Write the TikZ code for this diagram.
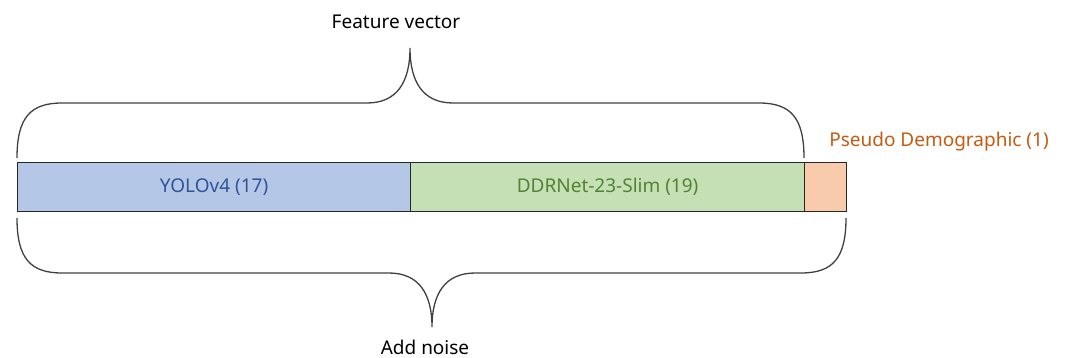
\documentclass[tikz,border=0pt]{standalone}
\usepackage{fontspec}
\setmainfont{Noto Sans}
\definecolor{bluefill}{HTML}{B4C7E7}
\definecolor{bluetext}{HTML}{2F5597}
\definecolor{greenfill}{HTML}{C5E0B4}
\definecolor{greentext}{HTML}{548235}
\definecolor{orangefill}{HTML}{F8CBAD}
\definecolor{orangetext}{HTML}{C55A11}
\definecolor{linegray}{HTML}{404040}
\begin{document}
\begin{tikzpicture}[x=1pt,y=-1pt,
  seg/.style={draw=black!85, line width=1.2pt, inner sep=0pt, anchor=north west,
              minimum height=49pt, font=\fontsize{19}{22}\selectfont},
  bracepath/.style={draw=linegray, line width=1.3pt},
  lbl/.style={inner sep=0pt, font=\fontsize{19}{22}\selectfont}]
\useasboundingbox (0,0) rectangle (1067,358);

% the three segments of the vector
\node[seg, fill=bluefill, text=bluetext, minimum width=393pt] (yolo) at (17,162) {YOLOv4 (17)};
\node[seg, fill=greenfill, text=greentext, minimum width=394pt] (ddr) at (410,162) {DDRNet-23-Slim (19)};
\node[seg, fill=orangefill, minimum width=42pt] (demo) at (804,162) {};

% labels
\node[lbl, text=orangetext] (demolbl) at (939,142) {Pseudo Demographic (1)};
\node[lbl] (feat) at (396,22) {Feature vector};
\node[lbl] (noise) at (425,347) {Add noise};

% upper brace over the two network segments
\draw[bracepath] (17,158) .. controls (17,118) and (30,103) .. (62,103)
  -- (367,103) .. controls (397,103) and (410,82) .. (410,48)
  .. controls (410,82) and (423,103) .. (453,103)
  -- (759,103) .. controls (791,103) and (804,118) .. (804,158);

% lower brace under the whole vector
\draw[bracepath] (17,218) .. controls (17,258) and (30,273) .. (62,273)
  -- (389,273) .. controls (419,273) and (432,294) .. (432,327)
  .. controls (432,294) and (445,273) .. (475,273)
  -- (801,273) .. controls (833,273) and (846,258) .. (846,218);
\end{tikzpicture}
\end{document}
